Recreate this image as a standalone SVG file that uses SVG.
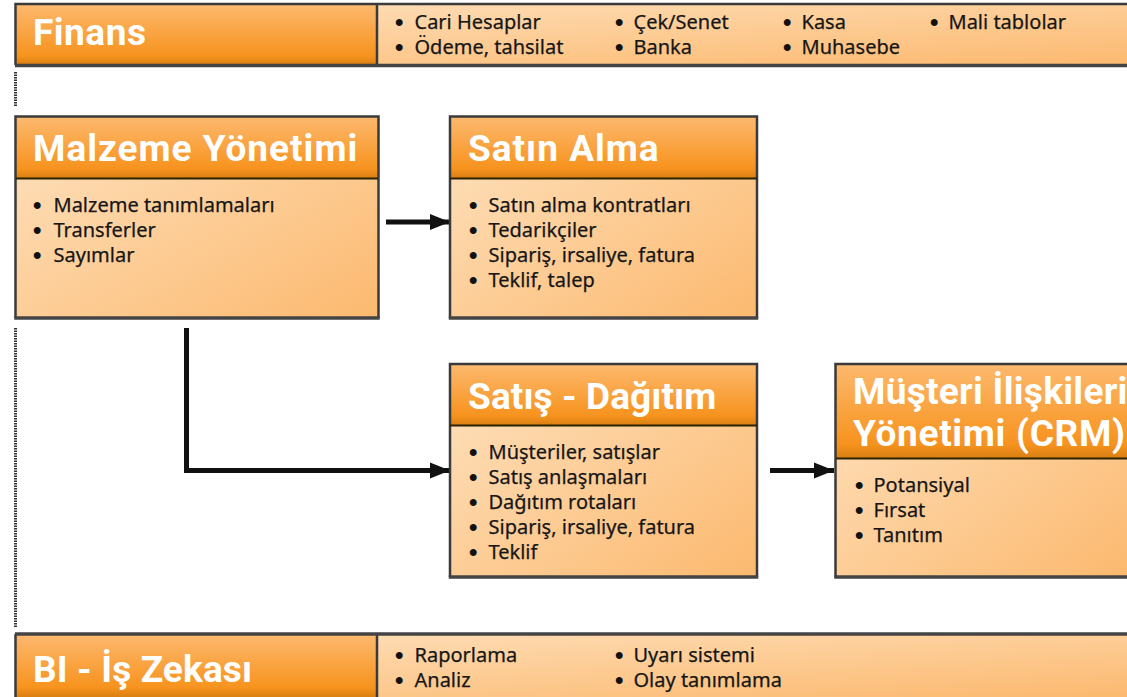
<svg xmlns="http://www.w3.org/2000/svg" width="1127" height="697" viewBox="0 0 1127 697">
<style>
.h{font:bold 37px Roboto,"Liberation Sans",sans-serif;fill:#fff}
.t{font:20px "Noto Sans","Liberation Sans",sans-serif;fill:#161616;stroke:#161616;stroke-width:.25}
.p{font:bold 24px "Liberation Sans",sans-serif;fill:#111}
.hd{fill:url(#hg);stroke:none}
.bd{fill:url(#bg);stroke:none}
.f{fill:none;stroke:#3a3a3a;stroke-width:2.5}
.s{stroke:#2a2200;stroke-width:2}
.u{stroke:#444;stroke-width:3.500;fill:none}
.c{fill:none;stroke:#111;stroke-width:5}
.d{fill:none;stroke:#333;stroke-width:3;stroke-dasharray:1.5 1}
</style>
<defs>
<linearGradient id="hg" x1="0" y1="0" x2="0" y2="1"><stop offset="0" stop-color="#fdb96f"/><stop offset=".85" stop-color="#f7931e"/><stop offset="1" stop-color="#d97f12"/></linearGradient>
<linearGradient id="bg" x1="0" y1="0" x2="1" y2="1"><stop offset="0" stop-color="#fee2c0"/><stop offset="1" stop-color="#fcb96f"/></linearGradient>
<marker id="a" markerUnits="userSpaceOnUse" markerWidth="20" markerHeight="18" refX="20" refY="9" orient="auto"><path d="M0 1L20 9L0 17Z" fill="#111"/></marker>
</defs>
<rect width="1127" height="697" fill="#fff"/>
<g id="connectors">
<path class="c" d="M386 222H450" marker-end="url(#a)"/>
<path class="c" d="M186.500 328V470.500H450" marker-end="url(#a)"/>
<path class="c" d="M770 470.500H834" marker-end="url(#a)"/>
<path class="d" d="M15.500 72V107M15.500 328V628"/>
</g>
<g id="finans">
<rect class="bd" x="16" y="4" width="1111" height="61"/><rect class="hd" x="16" y="4" width="361" height="61"/>
<path class="f" d="M1127 4H15.500V65M377 4V65"/><path class="u" d="M15 65.500H1127"/>
<text class="h" x="33" y="45" letter-spacing=".5">Finans</text>
<text class="p" x="395" y="29.500">•</text><text class="t" x="414.500" y="28.500">Cari Hesaplar</text><text class="p" x="395" y="54.500">•</text><text class="t" x="414.500" y="53.500">Ödeme, tahsilat</text><text class="p" x="615" y="29.500">•</text><text class="t" x="633.500" y="28.500">Çek/Senet</text><text class="p" x="615" y="54.500">•</text><text class="t" x="633.500" y="53.500">Banka</text><text class="p" x="783" y="29.500">•</text><text class="t" x="801.500" y="28.500">Kasa</text><text class="p" x="783" y="54.500">•</text><text class="t" x="801.500" y="53.500">Muhasebe</text><text class="p" x="930" y="29.500">•</text><text class="t" x="948.500" y="28.500">Mali tablolar</text>
</g>
<g id="malzeme">
<rect class="bd" x="16" y="117" width="362" height="201"/><rect class="hd" x="16" y="117" width="362" height="61"/>
<path class="f" d="M15.500 318V116.500H378.500V318"/><path class="s" d="M16 178.500H378"/><path class="u" d="M14.250 318H379.750"/>
<text class="h" x="33" y="161" letter-spacing="1">Malzeme Yönetimi</text>
<text class="p" x="33" y="212.500">•</text><text class="t" x="53.500" y="211.500">Malzeme tanımlamaları</text><text class="p" x="33" y="237.500">•</text><text class="t" x="53.500" y="236.500">Transferler</text><text class="p" x="33" y="262.500">•</text><text class="t" x="53.500" y="261.500">Sayımlar</text>
</g>
<g id="satinalma">
<rect class="bd" x="450" y="117" width="307" height="201"/><rect class="hd" x="450" y="117" width="307" height="61"/>
<path class="f" d="M450 318V116.500H757V318"/><path class="s" d="M450 178.500H757"/><path class="u" d="M448.750 318H758.250"/>
<text class="h" x="468" y="161" letter-spacing="1">Satın Alma</text>
<text class="p" x="469" y="212.500">•</text><text class="t" x="488.500" y="211.500">Satın alma kontratları</text><text class="p" x="469" y="237.500">•</text><text class="t" x="488.500" y="236.500">Tedarikçiler</text><text class="p" x="469" y="262.500">•</text><text class="t" x="488.500" y="261.500">Sipariş, irsaliye, fatura</text><text class="p" x="469" y="287.500">•</text><text class="t" x="488.500" y="286.500">Teklif, talep</text>
</g>
<g id="satis">
<rect class="bd" x="450" y="364" width="307" height="212"/><rect class="hd" x="450" y="364" width="307" height="61"/>
<path class="f" d="M450 577V364H757V577"/><path class="s" d="M450 425.500H757"/><path class="u" d="M448.750 577H758.250"/>
<text class="h" x="468" y="409" letter-spacing=".1">Satış - Dağıtım</text>
<text class="p" x="469" y="459.500">•</text><text class="t" x="488.500" y="458.500">Müşteriler, satışlar</text><text class="p" x="469" y="484.500">•</text><text class="t" x="488.500" y="483.500">Satış anlaşmaları</text><text class="p" x="469" y="509.500">•</text><text class="t" x="488.500" y="508.500">Dağıtım rotaları</text><text class="p" x="469" y="534.500">•</text><text class="t" x="488.500" y="533.500">Sipariş, irsaliye, fatura</text><text class="p" x="469" y="559.500">•</text><text class="t" x="488.500" y="558.500">Teklif</text>
</g>
<g id="crm">
<rect class="bd" x="836" y="364" width="291" height="212"/><rect class="hd" x="836" y="364" width="291" height="94"/>
<path class="f" d="M1127 364H835.500V577"/><path class="s" d="M836 458.500H1127"/><path class="u" d="M834.250 577H1127"/>
<text class="h" x="853" y="404" letter-spacing=".3">Müşteri İlişkileri</text><text class="h" x="853" y="446" letter-spacing=".7">Yönetimi (CRM)</text>
<text class="p" x="855" y="492.500">•</text><text class="t" x="873.500" y="491.500">Potansiyal</text><text class="p" x="855" y="517.500">•</text><text class="t" x="873.500" y="516.500">Fırsat</text><text class="p" x="855" y="542.500">•</text><text class="t" x="873.500" y="541.500">Tanıtım</text>
</g>
<g id="bi">
<rect class="bd" x="16" y="634" width="1111" height="63"/><rect class="hd" x="16" y="634" width="361" height="63"/>
<path class="f" d="M15.500 634V697M377 634V697"/><path class="u" d="M15 634H1127"/>
<text class="h" x="33" y="682" letter-spacing=".15">BI - İş Zekası</text>
<text class="p" x="395" y="662.500">•</text><text class="t" x="414.500" y="661.500">Raporlama</text><text class="p" x="395" y="687.500">•</text><text class="t" x="414.500" y="686.500">Analiz</text><text class="p" x="615" y="662.500">•</text><text class="t" x="633.500" y="661.500">Uyarı sistemi</text><text class="p" x="615" y="687.500">•</text><text class="t" x="633.500" y="686.500">Olay tanımlama</text>
</g>
</svg>
